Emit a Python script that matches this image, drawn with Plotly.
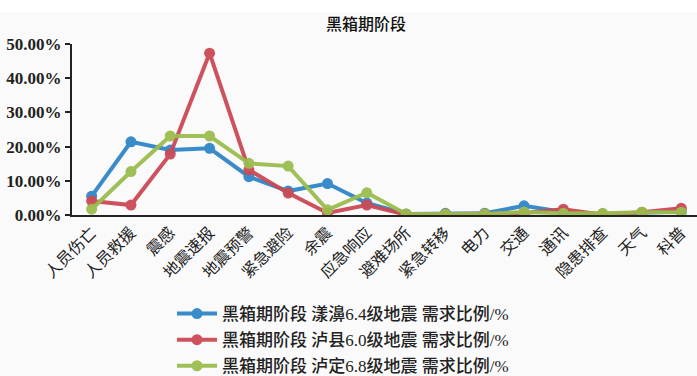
import plotly.graph_objects as go

categories = ["人员伤亡", "人员救援", "震感", "地震速报", "地震预警", "紧急避险", "余震",
              "应急响应", "避难场所", "紧急转移", "电力", "交通", "通讯", "隐患排查", "天气", "科普"]

yangbi = [5.5, 21.4, 19.0, 19.5, 11.2, 7.0, 9.2, 3.5, 0.3, 0.5, 0.5, 2.7, 0.9, 0.3, 0.6, 1.0]
luxian = [4.1, 2.9, 17.8, 47.3, 13.2, 6.4, 0.6, 2.9, 0.1, 0.3, 0.3, 0.6, 1.7, 0.1, 0.8, 2.0]
luding = [1.7, 12.7, 23.1, 23.1, 15.1, 14.3, 1.5, 6.5, 0.3, 0.3, 0.3, 0.9, 0.5, 0.5, 0.8, 0.8]

series_names = [
    "黑箱期阶段 漾濞6.4级地震 需求比例/%",
    "黑箱期阶段 泸县6.0级地震 需求比例/%",
    "黑箱期阶段 泸定6.8级地震 需求比例/%",
]
series_values = [yangbi, luxian, luding]
colors = ["#2f86c8", "#cc4a55", "#9bbd4e"]

y_ticks = [0, 10, 20, 30, 40, 50]
y_tick_labels = ["0.00%", "10.00%", "20.00%", "30.00%", "40.00%", "50.00%"]

fig = go.Figure()
for i, (name, vals, col) in enumerate(zip(series_names, series_values, colors)):
    fig.add_trace(go.Scatter(
        x=list(range(len(categories))), y=vals, name=name,
        legendgroup=f"g{i}",
        mode="lines+markers",
        line=dict(color=col, width=4),
        marker=dict(color=col, size=11),
        opacity=0.95,
    ))

W, H = 697, 376
T, B, L = 44, 161, 72
plot_h = H - T - B

fig.update_layout(
    width=W, height=H,
    margin=dict(l=L, r=0, t=T, b=B, autoexpand=False),
    paper_bgcolor="#fafafa",
    plot_bgcolor="#fafafa",
    title=dict(text="黑箱期阶段", x=366 / W, xanchor="center", y=1 - 24 / H, yanchor="middle",
               font=dict(family="Noto Sans CJK SC", size=16, color="#111", weight=500)),
    showlegend=True,
    legend=dict(xref="container", yref="container",
                x=172 / W, xanchor="left", y=1 - 296 / H, yanchor="top",
                bgcolor="rgba(0,0,0,0)", tracegroupgap=1, itemwidth=40,
                font=dict(family="Liberation Serif, Noto Sans CJK SC", size=17, color="#222",
                          weight=500)),
)

# white strip above the chart body
fig.add_shape(type="rect", xref="paper", yref="paper",
              x0=-L / (W - L), x1=1, y0=1 + (T - 12) / plot_h, y1=1 + T / plot_h,
              fillcolor="white", line=dict(width=0), layer="below")

fig.update_xaxes(
    range=[-0.5, 15.4],
    tickmode="array", tickvals=list(range(len(categories))), ticktext=categories,
    tickangle=-45, showgrid=False, zeroline=False,
    showline=True, linecolor="#222", linewidth=2, ticks="",
    tickfont=dict(family="Noto Sans CJK SC", size=16, color="#222"),
)
fig.update_yaxes(
    range=[0, 50], tickmode="array", tickvals=y_ticks, ticktext=y_tick_labels,
    showgrid=False, zeroline=False,
    showline=True, linecolor="#222", linewidth=2,
    ticks="outside", ticklen=5, tickwidth=2, tickcolor="#222",
    tickfont=dict(family="Liberation Serif", size=17, color="#222", weight="bold"),
)

fig.write_html("out.html")
